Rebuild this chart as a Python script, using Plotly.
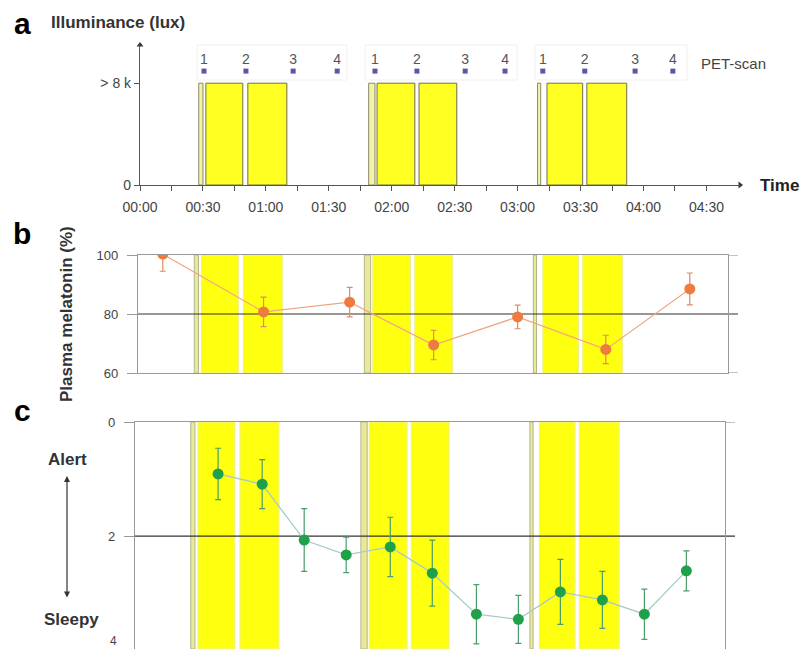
import plotly.graph_objects as go

W, H = 801, 649


def px(x):
    return x / W


def py(y):
    return 1 - y / H


# ---------------- data ----------------
thin_start = [28.0, 109.0, 189.5]
thin_end = [30.0, 112.0, 191.0]
light_start = [31.4, 51.4, 113.0, 133.0, 194.0, 213.0]
light_end = [49.0, 70.0, 131.0, 151.0, 211.0, 232.0]
light_level = 8  # "> 8 k"

pet_times = [30.5, 50.5, 73, 94, 112, 132, 155, 174, 192, 212, 236, 254]
pet_labels = ["1", "2", "3", "4", "1", "2", "3", "4", "1", "2", "3", "4"]

time_tick_vals = list(range(0, 271, 15))
time_tick_text = ["00:00", "", "00:30", "", "01:00", "", "01:30", "", "02:00", "",
                  "02:30", "", "03:00", "", "03:30", "", "04:00", "", "04:30"]

mel_time = [13, 61, 102, 142, 182, 224, 264]
mel_value = [100.3, 80.7, 84.0, 69.5, 79.0, 68.0, 88.5]
mel_err = [5.8, 5.0, 5.0, 5.0, 4.0, 4.8, 5.4]

sleep_time = [41, 62, 82, 102, 123, 143, 164, 184, 204, 224, 244, 264]
sleep_value = [0.91, 1.09, 2.07, 2.33, 2.19, 2.65, 3.37, 3.46, 2.98, 3.12, 3.37, 2.61]
sleep_err = [0.45, 0.43, 0.55, 0.31, 0.52, 0.58, 0.52, 0.42, 0.57, 0.50, 0.44, 0.35]

FONT = "Liberation Sans, Arial, sans-serif"

fig = go.Figure()

# ---------------- panel a ----------------
thin_c = [(s + e) / 2 for s, e in zip(thin_start, thin_end)]
thin_w = [e - s for s, e in zip(thin_start, thin_end)]
main_c = [(s + e) / 2 for s, e in zip(light_start, light_end)]
main_w = [e - s for s, e in zip(light_start, light_end)]

fig.add_trace(go.Bar(x=thin_c, y=[light_level] * len(thin_c), width=thin_w,
                     marker=dict(color="#F3F3A8", line=dict(color="#8A8A6A", width=1)),
                     xaxis="x", yaxis="y", showlegend=False, hoverinfo="skip"))
fig.add_trace(go.Bar(x=main_c, y=[light_level] * len(main_c), width=main_w,
                     marker=dict(color="#FFFF22", line=dict(color="#6E6E50", width=1)),
                     xaxis="x", yaxis="y", showlegend=False, hoverinfo="skip"))
fig.add_trace(go.Scatter(x=pet_times, y=[8.95] * len(pet_times), mode="markers",
                         marker=dict(symbol="square", size=5, color="#5858A8"),
                         xaxis="x", yaxis="y", showlegend=False, hoverinfo="skip",
                         cliponaxis=False))
fig.add_trace(go.Scatter(x=pet_times, y=[9.8] * len(pet_times), mode="text",
                         text=pet_labels, textfont=dict(size=14, color="#555", family=FONT),
                         xaxis="x", yaxis="y", showlegend=False, hoverinfo="skip",
                         cliponaxis=False))
# axis arrowheads
fig.add_trace(go.Scatter(x=[0], y=[11], mode="markers",
                         marker=dict(symbol="triangle-up", size=6, color="#333"),
                         xaxis="x", yaxis="y", showlegend=False, hoverinfo="skip",
                         cliponaxis=False))
fig.add_trace(go.Scatter(x=[286], y=[0], mode="markers",
                         marker=dict(symbol="triangle-right", size=6, color="#333"),
                         xaxis="x", yaxis="y", showlegend=False, hoverinfo="skip",
                         cliponaxis=False))

# ---------------- panel b ----------------
fig.add_trace(go.Scatter(x=mel_time, y=mel_value, mode="lines+markers",
                         line=dict(color="#F2A585", width=1.2),
                         marker=dict(size=11, color="#EE7B40"),
                         error_y=dict(type="data", array=mel_err, color="#E08A60",
                                      thickness=1.2, width=3),
                         xaxis="x2", yaxis="y2", showlegend=False))

# ---------------- panel c ----------------
fig.add_trace(go.Scatter(x=sleep_time, y=sleep_value, mode="lines+markers",
                         line=dict(color="#A6CCC6", width=1.3),
                         marker=dict(size=11, color="#1FA04A"),
                         error_y=dict(type="data", array=sleep_err, color="#4A9E6A",
                                      thickness=1.2, width=3),
                         xaxis="x3", yaxis="y3", showlegend=False))

shapes = []
# light bands in b and c
for xr, yr in (("x2", "y2 domain"), ("x3", "y3 domain")):
    for s, e in zip(thin_start, thin_end):
        shapes.append(dict(type="rect", xref=xr, yref=yr, x0=s, x1=e, y0=0, y1=1,
                           fillcolor="#E9E99A", line=dict(color="#B5B58C", width=1),
                           layer="below"))
    for s, e in zip(light_start, light_end):
        shapes.append(dict(type="rect", xref=xr, yref=yr, x0=s, x1=e, y0=0, y1=1,
                           fillcolor="#FFFF10", line=dict(color="#EFEF90", width=1),
                           layer="below"))

# reference lines
shapes.append(dict(type="line", xref="paper", yref="y2", x0=px(138), x1=px(738), y0=80, y1=80,
                   line=dict(color="#333", width=1.2), layer="between"))
for yv in (60, 100):
    shapes.append(dict(type="line", xref="paper", yref="y2", x0=px(728), x1=px(738), y0=yv, y1=yv,
                       line=dict(color="#999", width=1.2), layer="between"))
shapes.append(dict(type="line", xref="paper", yref="y3", x0=px(135), x1=px(735), y0=2, y1=2,
                   line=dict(color="#333", width=1.2), layer="between"))
shapes.append(dict(type="line", xref="paper", yref="y3", x0=px(725), x1=px(735), y0=0, y1=0,
                   line=dict(color="#999", width=1.2), layer="between"))

# faint PET group boxes
for x0, x1 in ((197, 347), (365, 517), (535, 687)):
    shapes.append(dict(type="rect", xref="paper", yref="paper", x0=px(x0), x1=px(x1),
                       y0=py(80), y1=py(45), line=dict(color="#F0F0F0", width=1),
                       layer="below"))


def ann(text, x, y, size=12, color="#444", xanchor="center", **kw):
    d = dict(text=text, x=px(x), y=py(y), xref="paper", yref="paper", showarrow=False,
             xanchor=xanchor, yanchor="middle",
             font=dict(size=size, color=color, family=FONT))
    d.update(kw)
    return d


annotations = [
    ann("<b>a</b>", 22, 24, size=30, color="#000"),
    ann("<b>b</b>", 22, 233, size=30, color="#000"),
    ann("<b>c</b>", 22, 410, size=30, color="#000"),
    ann("<b>Illuminance (lux)</b>", 49, 22, size=17, color="#333", xanchor="left"),
    ann("<b>Time</b>", 758, 185, size=17, color="#222", xanchor="left"),
    ann("PET-scan", 699, 64, size=15, color="#444", xanchor="left"),
    ann("<b>Plasma melatonin (%)</b>", 66, 314, size=17, color="#333", textangle=-90),
    ann("<b>Alert</b>", 67, 459, size=17, color="#333"),
    ann("<b>Sleepy</b>", 71, 619, size=17, color="#333"),
    dict(text="", x=px(67), y=py(476), ax=0, ay=123, xref="paper", yref="paper",
         axref="pixel", ayref="pixel", showarrow=True, arrowhead=2, arrowsize=1,
         arrowwidth=1.2, arrowcolor="#333", arrowside="end+start"),
    ann("4", 113, 641, size=12, color="#444"),
]

fig.update_layout(
    width=W, height=H,
    margin=dict(l=0, r=0, t=0, b=0, autoexpand=False),
    paper_bgcolor="white", plot_bgcolor="white",
    barmode="overlay",
    font=dict(family=FONT, size=12, color="#444"),
    shapes=shapes,
    annotations=annotations,
    xaxis=dict(domain=[px(140), px(740)], range=[0, 286], showline=True, linecolor="#555",
               linewidth=1.2, ticks="outside", ticklen=5, tickcolor="#555",
               tickvals=time_tick_vals, ticktext=time_tick_text, showgrid=False,
               zeroline=False, tickfont=dict(size=14, color="#444"), ticklabelstandoff=4,
               anchor="y", automargin=False),
    yaxis=dict(domain=[py(185), py(45)], range=[0, 11], showline=True, linecolor="#555",
               linewidth=1.2, ticks="outside", ticklen=5, tickcolor="#555",
               tickvals=[0, 8], ticktext=["0", "> 8 k"], showgrid=False, zeroline=False,
               tickfont=dict(size=14, color="#444"), anchor="x", automargin=False),
    xaxis2=dict(domain=[px(138), px(728)], range=[1.2, 282.2], showline=True, mirror=True,
                linecolor="#999", linewidth=1.2, showticklabels=False, ticks="",
                showgrid=False, zeroline=False, anchor="y2", automargin=False),
    yaxis2=dict(domain=[py(373), py(255)], range=[60, 100], showline=True, mirror=True,
                linecolor="#999", linewidth=1.2, ticks="outside", ticklen=10, tickcolor="#999",
                tickvals=[60, 80, 100], showgrid=False, zeroline=False, ticklabelstandoff=6,
                tickfont=dict(size=13, color="#444"), anchor="x2", automargin=False),
    xaxis3=dict(domain=[px(135), px(725)], range=[1.43, 282.4], showline=True, mirror=True,
                linecolor="#999", linewidth=1.2, showticklabels=False, ticks="",
                showgrid=False, zeroline=False, anchor="y3", automargin=False),
    yaxis3=dict(domain=[0, py(422)], range=[3.98, 0], showline=True, mirror=True,
                linecolor="#999", linewidth=1.2, ticks="outside", ticklen=10, tickcolor="#999",
                tickvals=[0, 2], showgrid=False, zeroline=False, ticklabelstandoff=6,
                tickfont=dict(size=13, color="#444"), anchor="x3", automargin=False),
)

fig.write_html("out.html")
